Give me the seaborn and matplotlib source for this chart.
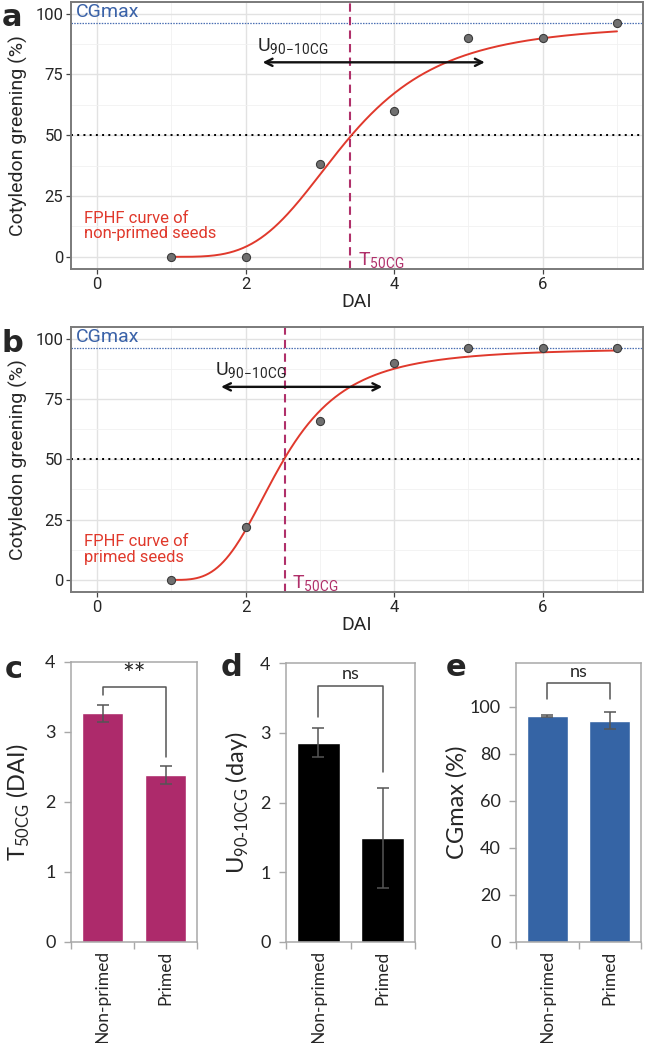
import numpy as np
import pandas as pd
import matplotlib
matplotlib.use("Agg")
import matplotlib.pyplot as plt
import seaborn as sns
from matplotlib.ticker import FixedLocator
from matplotlib import font_manager

# ---------------- data ----------------
dai = [1, 2, 3, 4, 5, 6, 7]
greening_nonprimed = [0, 0, 38, 60, 90, 90, 96]
greening_primed = [0, 22, 66, 90, 96, 96, 96]

# FPHF (four-parameter Hill function) fitted parameters
fphf_nonprimed = dict(a=96, b=3.6, c=2.37, lag=1)
fphf_primed = dict(a=96, b=3.3, c=1.48, lag=1)

cgmax_nonprimed = 96
cgmax_primed = 96
t50_nonprimed = 3.41
t50_primed = 2.53
u_arrow_nonprimed = [2.23, 5.22]
u_arrow_primed = [1.67, 3.84]

groups = ["Non-primed", "Primed"]
t50_mean = [3.27, 2.39]
t50_err = [0.12, 0.13]
u_mean = [2.86, 1.49]
u_err = [0.21, 0.72]
cg_mean = [96.0, 94.0]
cg_err = [0.3, 3.6]

# ---------------- style ----------------
sns.set_theme(style="white")
avail = {f.name for f in font_manager.fontManager.ttflist}
narrow = "Liberation Sans Narrow" if "Liberation Sans Narrow" in avail else "Roboto"
FAM_GG = [narrow, "DejaVu Sans"]
FAM_XL = ["Lato", "DejaVu Sans"]
plt.rcParams["font.family"] = FAM_GG
plt.rcParams["mathtext.fontset"] = "custom"

W, H = 646, 1043
fig = plt.figure(figsize=(W / 100, H / 100), dpi=100)


def add_ax(left, top, right, bottom):
    return fig.add_axes([left / W, 1 - bottom / H, (right - left) / W, (bottom - top) / H])


RED = "#E0392C"
MAG = "#B0306A"
BLUE = "#3A62A8"


def hill(x, a, b, c, lag):
    xl = np.clip(x - lag, 0, None)
    return a * xl ** b / (c ** b + xl ** b)


def curve_panel(ax, y, params, cgmax, t50, arrow, label):
    ax.set_xlim(-0.35, 7.35)
    ax.set_ylim(-5.0, 104.8)
    ax.xaxis.set_major_locator(FixedLocator([0, 2, 4, 6]))
    ax.xaxis.set_minor_locator(FixedLocator([1, 3, 5, 7]))
    ax.yaxis.set_major_locator(FixedLocator([0, 25, 50, 75, 100]))
    ax.yaxis.set_minor_locator(FixedLocator([12.5, 37.5, 62.5, 87.5]))
    ax.grid(which="major", color="#E2E2E2", lw=1.0)
    ax.grid(which="minor", color="#F1F1F1", lw=0.6)
    ax.set_axisbelow(True)
    for s in ax.spines.values():
        s.set_color("#7A7A7A")
        s.set_linewidth(1.4)
    ax.tick_params(which="major", length=3.5, width=0.9, color="#444444",
                   labelsize=12, pad=2, left=True, bottom=True)
    ax.tick_params(which="minor", length=0)
    for t in ax.get_xticklabels() + ax.get_yticklabels():
        t.set_family(FAM_GG)

    ax.axhline(cgmax, color="#4A6FB3", ls=(0, (1.2, 1.0)), lw=0.9, zorder=2)
    ax.axhline(50, color="black", ls=(0, (1, 2.2)), lw=1.4, zorder=2)
    ax.axvline(t50, color=MAG, ls=(0, (4, 2.5)), lw=1.5, zorder=2)

    xs = np.linspace(params["lag"], 7, 300)
    sns.lineplot(x=xs, y=hill(xs, **params), color=RED, lw=1.4, ax=ax, zorder=3)
    sns.scatterplot(x=dai, y=y, color="#707070", edgecolor="#3C3C3C", linewidth=0.8,
                    s=34, ax=ax, zorder=4)

    ax.annotate("", xy=(arrow[1], 80), xytext=(arrow[0], 80),
                arrowprops=dict(arrowstyle="<->", lw=1.7, color="#111111",
                                mutation_scale=13, shrinkA=0, shrinkB=0), zorder=5)
    ax.text(arrow[0] - 0.08, 86.5, r"U$_{\mathregular{90\!-\!10CG}}$", fontsize=14,
            va="center", ha="left", family=FAM_GG)
    ax.text(-0.29, 100.8, "CGmax", color=BLUE, fontsize=14, va="center", family=FAM_GG)
    ax.text(t50 + 0.1, -1.5, r"T$_{\mathregular{50CG}}$", color=MAG, fontsize=14,
            va="center", family=FAM_GG)
    ax.text(-0.17, 12.7, label, color=RED, fontsize=12, va="center",
            linespacing=1.05, family=FAM_GG)
    ax.set_xlabel("DAI", fontsize=14, family=FAM_GG, labelpad=1)
    ax.set_ylabel("Cotyledon greening (%)", fontsize=14, family=FAM_GG, labelpad=5)


ax_a = add_ax(71, 2, 643, 269)
curve_panel(ax_a, greening_nonprimed, fphf_nonprimed, cgmax_nonprimed, t50_nonprimed,
            u_arrow_nonprimed, "FPHF curve of\nnon-primed seeds")
ax_b = add_ax(71, 327, 643, 592)
curve_panel(ax_b, greening_primed, fphf_primed, cgmax_primed, t50_primed,
            u_arrow_primed, "FPHF curve of\nprimed seeds")


def bar_panel(ax, means, errs, color, ylim, yticks, ylabel, bracket, sig, sig_y, sig_size,
              label_x):
    df = pd.DataFrame({"group": groups, "value": means})
    sns.barplot(data=df, x="group", y="value", color=color, saturation=1, width=0.66,
                errorbar=None, ax=ax, zorder=2)
    ax.errorbar(x=[0, 1], y=means, yerr=errs, fmt="none", ecolor="#555555",
                elinewidth=1.1, capsize=4, capthick=1.1, zorder=3)
    ax.plot([0, 0, 1, 1], bracket, color="#555555", lw=1.1, zorder=3)
    ax.text(0.5, sig_y, sig, ha="center", va="center", fontsize=sig_size, family=FAM_XL)
    ax.set_xlim(-0.5, 1.5)
    ax.set_ylim(*ylim)
    ax.yaxis.set_major_locator(FixedLocator(yticks))
    ax.xaxis.set_minor_locator(FixedLocator([-0.5, 0.5, 1.5]))
    for s in ax.spines.values():
        s.set_color("#A8A8A8")
        s.set_linewidth(1.1)
    ax.tick_params(axis="y", which="major", length=5, width=1, color="#A8A8A8",
                   labelsize=13, pad=6, left=True)
    ax.tick_params(axis="x", which="major", length=0, labelsize=12.5, pad=6,
                   labelrotation=90, bottom=True)
    ax.tick_params(axis="x", which="minor", length=5, width=1, color="#A8A8A8",
                   bottom=True)
    for t in ax.get_xticklabels() + ax.get_yticklabels():
        t.set_family(FAM_XL)
    ax.set_xlabel("")
    ax.set_ylabel(ylabel, fontsize=17, family=FAM_XL)
    ax.yaxis.set_label_coords(label_x, 0.5)
    ax.grid(False)


ax_c = add_ax(71, 662, 197, 942)
bar_panel(ax_c, t50_mean, t50_err, "#AD2A6B", (0, 4), [0, 1, 2, 3, 4],
          r"T$_{\mathregular{50CG}}$ (DAI)", [3.53, 3.64, 3.64, 2.65], "**", 3.8, 20, -0.31)
ax_d = add_ax(286, 663, 415, 942)
bar_panel(ax_d, u_mean, u_err, "#000000", (0, 4), [0, 1, 2, 3, 4],
          r"U$_{\mathregular{90\text{-}10CG}}$ (day)", [3.23, 3.67, 3.67, 2.44], "ns", 3.84, 13,
          -0.27)
ax_e = add_ax(516, 663, 641, 942)
bar_panel(ax_e, cg_mean, cg_err, "#3564A5", (0, 118.5), [0, 20, 40, 60, 80, 100],
          "CGmax (%)", [103, 110, 110, 103], "ns", 114.5, 13, -0.39)

for lab, x, y in [("a", 12, 18), ("b", 12, 344), ("c", 14, 670), ("d", 232, 667),
                  ("e", 456, 667)]:
    fig.text(x / W, 1 - y / H, lab, fontsize=22, fontweight="bold", ha="center",
             va="center", family=["DejaVu Sans"])

fig.savefig("out.png", dpi=100, facecolor="white")
